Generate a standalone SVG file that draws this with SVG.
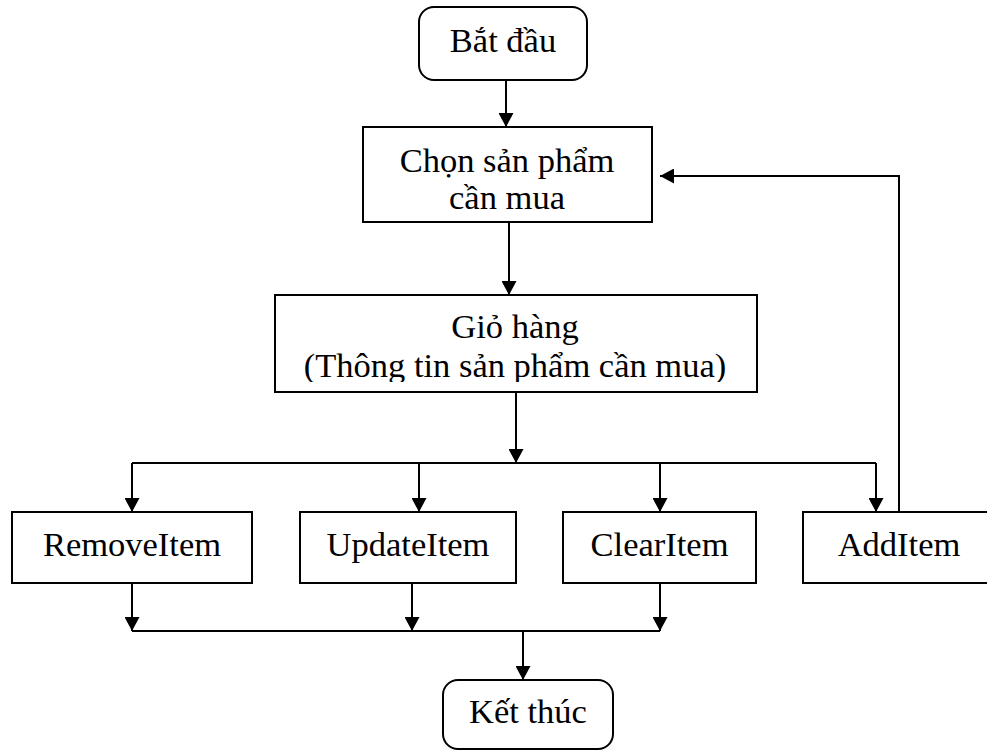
<svg xmlns="http://www.w3.org/2000/svg" width="987" height="751" viewBox="0 0 987 751">
<style>
.box{fill:#fff;stroke:#000;stroke-width:2}
.lbl{font-family:'Liberation Serif',Tinos,'Times New Roman','DejaVu Serif',serif;font-size:34.5px;fill:#000;text-anchor:middle}
.conn{fill:none;stroke:#000;stroke-width:2}
</style>
<defs>
<marker id="ah" markerUnits="userSpaceOnUse" markerWidth="15" markerHeight="15" refX="14" refY="7.5" orient="auto">
<path d="M0,0 L14,7.5 L0,15 z" fill="#000"/>
</marker>
<clipPath id="gioClip"><rect x="276" y="296" width="480" height="86"/></clipPath>
</defs>
<rect width="987" height="751" fill="#fff"/>
<g id="connectors">
<path class="conn" d="M506,80 V127" marker-end="url(#ah)"/>
<path class="conn" d="M509,222 V295" marker-end="url(#ah)"/>
<path class="conn" d="M516,392 V463" marker-end="url(#ah)"/>
<path class="conn" d="M132,463 H876"/>
<path class="conn" d="M132,463 V512" marker-end="url(#ah)"/>
<path class="conn" d="M419,463 V512" marker-end="url(#ah)"/>
<path class="conn" d="M660,463 V512" marker-end="url(#ah)"/>
<path class="conn" d="M876,463 V512" marker-end="url(#ah)"/>
<path class="conn" d="M899,512 V176 H660" marker-end="url(#ah)"/>
<path class="conn" d="M132,583 V631" marker-end="url(#ah)"/>
<path class="conn" d="M412,583 V631" marker-end="url(#ah)"/>
<path class="conn" d="M660,583 V631" marker-end="url(#ah)"/>
<path class="conn" d="M132,631 H660"/>
<path class="conn" d="M523,631 V680" marker-end="url(#ah)"/>
</g>
<g id="start">
<rect class="box" x="419" y="7" width="168" height="73" rx="15"/>
<text class="lbl" font-family="Liberation Serif, serif" x="503" y="52">Bắt đầu</text>
</g>
<g id="chon">
<rect class="box" x="363" y="127" width="289" height="95"/>
<text class="lbl" x="507" y="172">Chọn sản phẩm</text>
<text class="lbl" x="507" y="209">cần mua</text>
</g>
<g id="giohang">
<rect class="box" x="275" y="295" width="482" height="97"/>
<g clip-path="url(#gioClip)">
<text class="lbl" x="515" y="338">Giỏ hàng</text>
<text class="lbl" x="515" y="377">(Thông tin sản phẩm cần mua)</text>
</g>
</g>
<g id="remove">
<rect class="box" x="12" y="512" width="240" height="71"/>
<text class="lbl" x="132" y="556">RemoveItem</text>
</g>
<g id="update">
<rect class="box" x="300" y="512" width="216" height="71"/>
<text class="lbl" x="408" y="556">UpdateItem</text>
</g>
<g id="clear">
<rect class="box" x="563" y="512" width="193" height="71"/>
<text class="lbl" x="659.5" y="556">ClearItem</text>
</g>
<g id="add">
<rect class="box" x="803" y="512" width="194" height="71"/>
<text class="lbl" x="899" y="556">AddItem</text>
</g>
<g id="end">
<rect class="box" x="443" y="680" width="170" height="69" rx="15"/>
<text class="lbl" x="528" y="723">Kết thúc</text>
</g>
</svg>
